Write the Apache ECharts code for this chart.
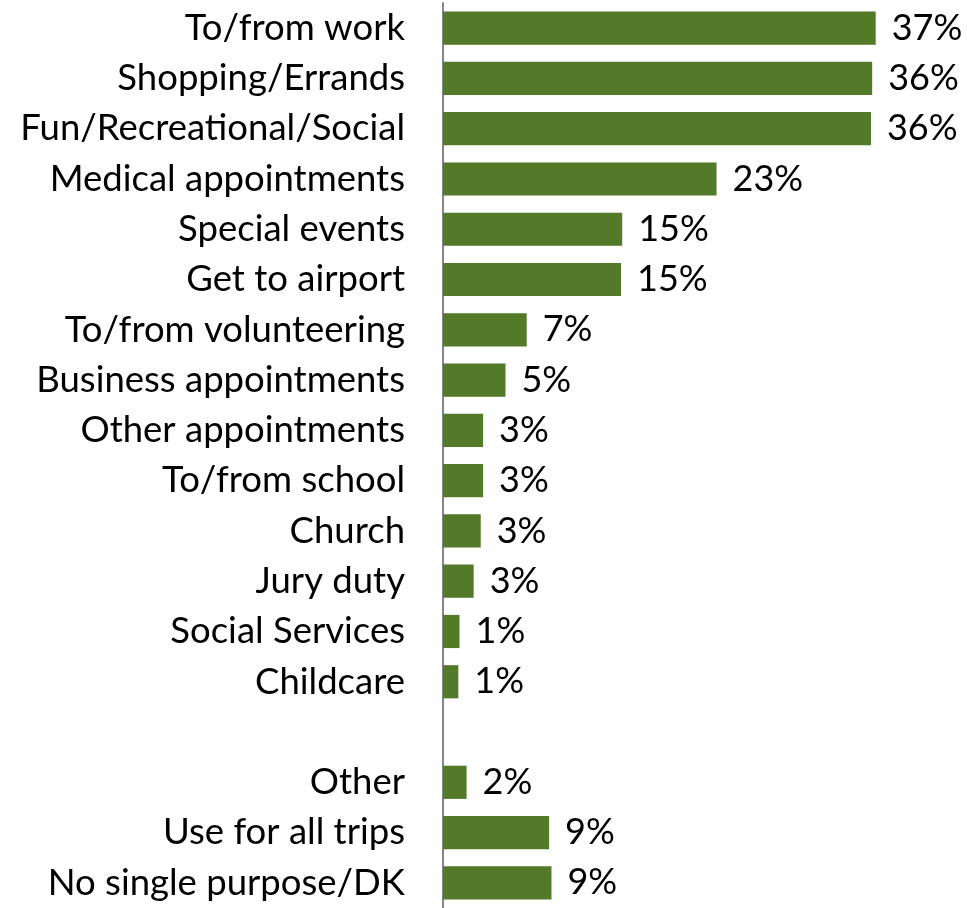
<!DOCTYPE html>
<html>
<head>
<meta charset="utf-8">
<style>
  html, body { margin: 0; padding: 0; background: #ffffff; }
  #chart { width: 967px; height: 908px; }
</style>
<script src="https://cdn.jsdelivr.net/npm/echarts@6/dist/echarts.min.js"></script>
</head>
<body>
<div id="chart"></div>
<script>
// Trip purposes, top to bottom; the empty entry leaves a spacer row
const categories = [
  'To/from work',
  'Shopping/Errands',
  'Fun/Recreational/Social',
  'Medical appointments',
  'Special events',
  'Get to airport',
  'To/from volunteering',
  'Business appointments',
  'Other appointments',
  'To/from school',
  'Church',
  'Jury duty',
  'Social Services',
  'Childcare',
  '',
  'Other',
  'Use for all trips',
  'No single purpose/DK'
];

// Share of respondents (%)
const shares = [
  36.7, 36.4, 36.3, 23.2, 15.2, 15.1, 7.1, 5.3, 3.4, 3.4, 3.2, 2.6, 1.4, 1.3,
  null,
  2.0, 9.0, 9.2
];

const FONT = 'Lato';
const chart = echarts.init(document.getElementById('chart'), null, { renderer: 'canvas' });

chart.setOption({
  animation: false,
  backgroundColor: '#ffffff',
  grid: { left: 443, top: 3, width: 471.6, height: 910, containLabel: false },
  xAxis: {
    type: 'value',
    min: 0,
    max: 40,
    show: false,
    splitLine: { show: false }
  },
  yAxis: {
    type: 'category',
    data: categories,
    inverse: true,
    axisLine: { show: true, lineStyle: { color: '#868686', width: 2 } },
    axisTick: { show: false },
    axisLabel: {
      margin: 38,
      color: '#000000',
      fontFamily: FONT,
      fontSize: 36.5
    }
  },
  series: [{
    type: 'bar',
    data: shares,
    barCategoryGap: '34%',
    itemStyle: { color: '#537a29' },
    label: {
      show: true,
      position: 'right',
      distance: 16,
      color: '#000000',
      fontFamily: FONT,
      fontSize: 36,
      formatter: p => (p.value == null ? '' : Math.round(p.value) + '%')
    }
  }]
});
</script>
</body>
</html>
